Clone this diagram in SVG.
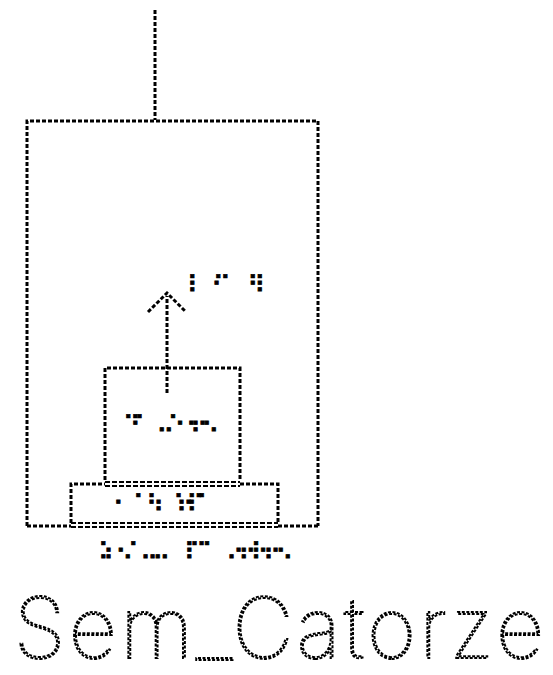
<svg xmlns="http://www.w3.org/2000/svg" width="553" height="675" viewBox="0 0 553 675">
<style>
.d{fill:none;stroke:#000;stroke-width:3;stroke-dasharray:4 2}
.h{fill:none;stroke:#000;stroke-width:6;stroke-dasharray:5 2}
.hw{fill:none;stroke:#fff;stroke-width:2;stroke-dasharray:5 2}
.br{font-family:"DejaVu Sans",sans-serif;font-size:24px;fill:#000;stroke:#000;stroke-width:0.8}
</style>
<rect width="553" height="675" fill="#fff"/>
<g id="connectors">
<path class="d" d="M155 10V120"/>
<path class="d" d="M167 393V296"/>
<path class="d" d="M148 312L167 293L186 312"/>
</g>
<g id="outer-box">
<path class="d" d="M27 526V121H318V526"/>
</g>
<g id="inner-box">
<path class="d" d="M105 480V368H240V480"/>
<text class="br" x="123" y="433" textLength="96">⠙⠁⠀⠤⠑⠐⠖⠢</text>
</g>
<g id="base">
<path class="d" d="M71 523V484H105M240 484H278V523"/>
<path class="h" d="M105 484H240"/>
<path class="hw" d="M105 484H240"/>
<text class="br" x="106" y="512" textLength="108">⠐⠀⠈⠀⠳⠀⠈⠖⠏⠁</text>
</g>
<g id="bottom">
<path class="d" d="M27 526H71M278 526H318"/>
<path class="h" d="M71 525H278"/>
<path class="hw" d="M71 525H278"/>
</g>
<g id="arrow-label">
<text class="br" x="187" y="293" textLength="78">⠇⠀⠐⠉⠀⠀⠀⠻</text>
</g>
<g id="caption">
<text class="br" x="91" y="560" textLength="202">⠨⠆⠢⠁⠤⠤⠀⠸⠉⠁⠀⠔⠖⠗⠖⠢</text>
<text x="14" y="658" font-family="Inter, sans-serif" font-weight="100" font-size="84" textLength="530" fill="none" stroke="#000" stroke-width="2" stroke-dasharray="3 1.5">Sem_Catorze</text>
</g>
</svg>
